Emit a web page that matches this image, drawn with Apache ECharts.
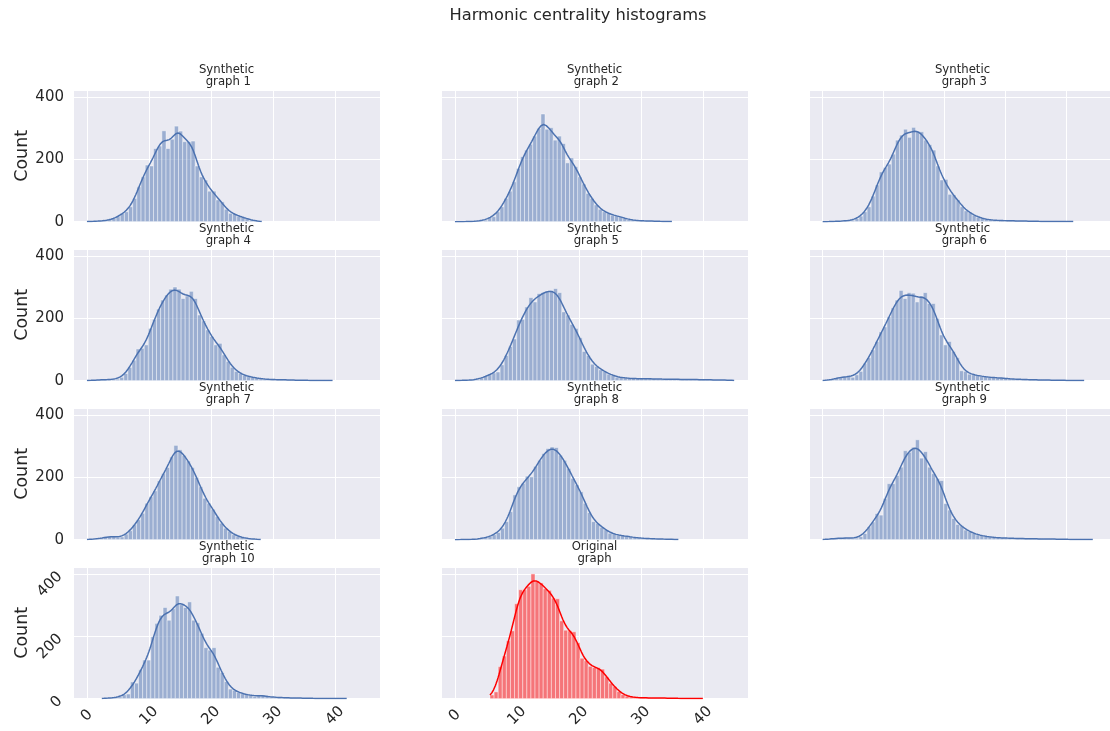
<!DOCTYPE html>
<html><head><meta charset="utf-8">
<script src="https://cdn.jsdelivr.net/npm/echarts@6/dist/echarts.min.js"></script>
<style>html,body{margin:0;padding:0;background:#fff}#c{width:1110px;height:731px}</style>
</head><body><div id="c"></div>
<script>
// ---------------- data ----------------
const chartTitle = 'Harmonic centrality histograms';
const panelTitles = ['Synthetic\n graph 1','Synthetic\n graph 2','Synthetic\n graph 3',
  'Synthetic\n graph 4','Synthetic\n graph 5','Synthetic\n graph 6',
  'Synthetic\n graph 7','Synthetic\n graph 8','Synthetic\n graph 9',
  'Synthetic\n graph 10','Original\ngraph'];
const xTicks = [0, 10, 20, 30, 40];
const yTicks = [0, 200, 400];
const yLabel = 'Count';
// left edge of first bin and bin width for each panel
const binStart = [0, 0, 0, 0, 0, 0, 0, 0, 0, 2.4, 5.65];
const binWidth = [0.671, 0.66, 0.6645, 0.66, 0.662, 0.6615, 0.667, 0.667, 0.663, 0.658, 0.66];
const countsS1 = [1,1,2,2,3,6,10,16,27,32,48,75,112,144,182,179,235,243,292,235,265,307,291,257,257,259,179,144,134,98,98,70,64,40,27,25,18,14,10,5,3,1];
const countsS2 = [0,0,0,1,1,2,3,5,14,16,32,48,75,98,128,171,209,230,249,275,300,346,297,302,262,275,251,189,205,177,144,121,91,75,54,40,32,27,21,19,16,11,7,5,4,3,3,2,2,1,1,1,1];
const countsS3 = [0,0,1,1,2,3,4,5,10,18,32,48,82,118,160,174,185,217,262,278,297,271,303,291,289,262,248,230,179,134,136,88,86,70,48,35,29,21,14,11,7,6,5,4,4,3,3,3,2,2,2,2,1,1,1,1,1,1,1,1,1,1];
const countsS4 = [1,1,2,3,3,4,5,5,11,23,43,66,102,104,115,168,197,230,259,275,294,301,294,264,272,287,264,211,192,163,142,115,120,83,62,43,30,23,17,13,11,9,6,5,4,4,3,3,3,2,2,2,1,1,1,1,1,1,1,1];
const countsS5 = [1,1,1,2,2,3,9,14,19,25,28,51,81,110,134,195,197,237,267,253,280,283,288,290,296,283,221,211,181,168,138,94,81,53,46,35,30,21,17,11,10,9,7,7,7,6,6,6,6,5,5,5,5,5,4,4,4,4,4,3,3,3,3,2,2,2,2,2];
const countsS6 = [1,2,4,8,11,13,15,11,19,30,56,74,99,126,157,173,205,234,259,290,264,283,281,253,272,283,248,248,200,147,115,126,94,74,32,30,21,19,17,14,13,11,10,9,9,7,6,5,5,4,4,3,3,3,2,2,2,2,1,1,1,1,1,1,1];
const countsS7 = [1,2,3,5,8,10,10,8,9,18,29,48,64,85,117,138,157,189,213,232,266,303,289,271,253,232,200,170,133,117,98,74,53,37,27,16,11,7,5,3,2,1];
const countsS8 = [0,0,1,1,1,2,4,6,11,16,23,37,58,90,144,170,181,204,202,236,255,277,293,298,296,271,255,229,197,176,154,117,87,58,53,40,32,21,18,14,13,11,9,7,6,5,4,3,3,2,2,2,1,1];
const countsS9 = [1,2,3,4,5,6,5,4,5,10,20,41,57,84,79,132,180,180,206,233,286,281,297,321,262,283,233,212,196,190,116,95,68,49,45,31,26,20,15,13,11,9,7,6,6,5,5,4,4,4,3,3,3,3,2,2,2,2,2,1,1,1,1,1,1,1,1];
const countsS10 = [1,2,3,4,6,13,15,54,50,93,124,124,199,242,268,293,252,289,330,302,293,311,252,244,210,164,156,164,101,84,55,31,27,20,16,14,11,7,10,12,7,5,5,4,3,3,2,2,2,2,1,1,1,1,1,1,1,1,1,1];
const countsOriginal = [12,22,103,137,186,218,305,350,350,361,401,377,372,353,348,323,321,250,220,218,215,180,130,122,104,100,100,95,70,50,39,23,13,8,5,4,3,3,3,2,2,2,2,2,1,1,1,1,1,1,1,1];
const panelCounts = [countsS1,countsS2,countsS3,countsS4,countsS5,countsS6,countsS7,countsS8,countsS9,countsS10,countsOriginal];

// ---------------- layout / style ----------------
const FONT = 'DejaVu Sans';
const TXT = '#262626';
const colLeft = [73, 441, 809];
const rowTop = [90, 249, 408, 567];
const gridW = 307, gridH = 131.7;
const xMin = -2.25, xMax = 47.25, yMax = 423;
const blue = {fill: 'rgba(76,114,176,0.5)', line: '#4C72B0'};
const red = {fill: 'rgba(255,0,0,0.5)', line: '#FF0000'};

// Gaussian KDE (Scott's rule) from binned counts, scaled to counts, cut at data range
function kdeCurve(start, w, counts, nPts) {
  const centers = counts.map((c, i) => start + w * (i + 0.5));
  const N = counts.reduce((a, b) => a + b, 0);
  let mean = 0; counts.forEach((c, i) => mean += c * centers[i]); mean /= N;
  let v = 0; counts.forEach((c, i) => v += c * (centers[i] - mean) ** 2); v /= (N - 1);
  const bw = Math.sqrt(v) * Math.pow(N, -0.2);
  const end = start + w * counts.length;
  const pts = [];
  for (let j = 0; j <= nPts; j++) {
    const x = start + (end - start) * j / nPts;
    let s = 0;
    for (let i = 0; i < counts.length; i++) {
      const z = (x - centers[i]) / bw;
      s += counts[i] * Math.exp(-0.5 * z * z);
    }
    pts.push([x, s / (bw * Math.sqrt(2 * Math.PI)) * w]);
  }
  return pts;
}

const grids = [], xAxes = [], yAxes = [], series = [], graphics = [];
graphics.push({type: 'text', x: 578, y: 16, style: {text: chartTitle, font: '16.3px "' + FONT + '"', fill: TXT, textAlign: 'center', textVerticalAlign: 'middle'}});

panelCounts.forEach((counts, k) => {
  const row = Math.floor(k / 3), col = k % 3;
  const left = colLeft[col], top = rowTop[row];
  const isBottom = k >= 9;
  const isLeft = col === 0;
  const pal = k === 10 ? red : blue;
  grids.push({left: left, top: top, width: gridW, height: gridH, show: true, backgroundColor: '#EAEAF2', borderWidth: 0, containLabel: false});
  xAxes.push({gridIndex: k, type: 'value', min: xMin, max: xMax, splitNumber: 5,
    axisLine: {show: false}, axisTick: {show: false},
    splitLine: {show: true, lineStyle: {color: '#ffffff', width: 1}},
    axisLabel: {show: isBottom, rotate: 45, fontSize: 15, fontFamily: FONT, color: TXT, margin: 17,
      align: 'center', verticalAlign: 'middle',
      formatter: v => xTicks.includes(v) ? String(v) : ''}});
  yAxes.push({gridIndex: k, type: 'value', min: 0, max: yMax, interval: 200,
    axisLine: {show: false}, axisTick: {show: false},
    splitLine: {show: true, lineStyle: {color: '#ffffff', width: 1}},
    name: isLeft ? yLabel : '', nameLocation: 'middle', nameGap: 42, nameRotate: 90,
    nameTextStyle: {fontSize: 17.5, fontFamily: FONT, color: TXT},
    axisLabel: {show: isLeft, rotate: k === 9 ? 45 : 0, fontSize: 15, fontFamily: FONT, color: TXT, margin: k === 9 ? 13 : 9,
      formatter: v => yTicks.includes(v) ? String(v) : ''}});
  const start = binStart[k], w = binWidth[k];
  const barData = counts.map((c, i) => [start + w * i, start + w * (i + 1), c]).filter(d => d[2] > 0);
  series.push({type: 'custom', xAxisIndex: k, yAxisIndex: k, data: barData, encode: {x: [0, 1], y: 2},
    renderItem: (params, api) => {
      const a = api.coord([api.value(0), api.value(2)]);
      const b = api.coord([api.value(1), 0]);
      return {type: 'rect', shape: {x: a[0], y: a[1], width: b[0] - a[0], height: b[1] - a[1]},
        style: {fill: pal.fill, stroke: 'rgba(255,255,255,0.55)', lineWidth: 0.8}};
    }, z: 2});
  series.push({type: 'line', xAxisIndex: k, yAxisIndex: k, data: kdeCurve(start, w, counts, 240),
    showSymbol: false, symbol: 'none', lineStyle: {color: pal.line, width: 1.5}, itemStyle: {color: pal.line}, z: 3});
  const lines = panelTitles[k].split('\n');
  const cx = left + gridW / 2;
  graphics.push({type: 'text', x: cx, y: top - 20.5, style: {text: lines[0], font: '11.7px "' + FONT + '"', fill: TXT, textAlign: 'center', textVerticalAlign: 'middle'}});
  graphics.push({type: 'text', x: cx, y: top - 8.5, style: {text: lines[1], font: '11.7px "' + FONT + '"', fill: TXT, textAlign: 'center', textVerticalAlign: 'middle'}});
});

const chart = echarts.init(document.getElementById('c'), null, {renderer: 'canvas'});
chart.setOption({animation: false, backgroundColor: '#ffffff', grid: grids, xAxis: xAxes, yAxis: yAxes, series: series, graphic: graphics});
</script></body></html>
